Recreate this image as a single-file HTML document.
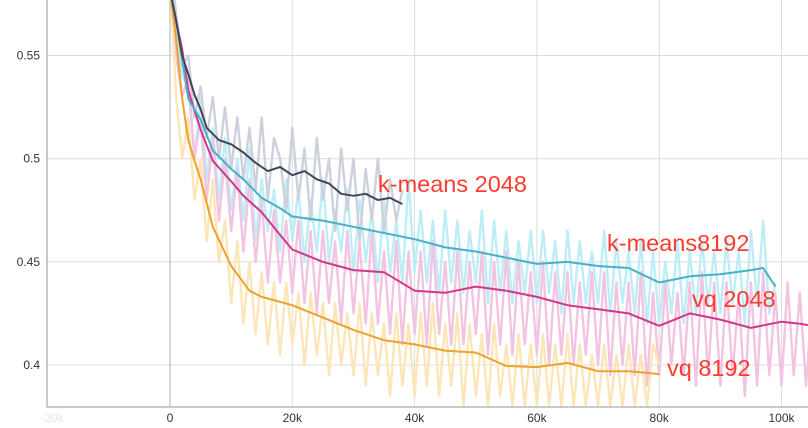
<!DOCTYPE html>
<html><head><meta charset="utf-8"><style>
html,body{margin:0;padding:0;background:#fff;}
svg{display:block;font-family:"Liberation Sans",sans-serif;}
</style></head><body>
<svg id="chart" width="808" height="428"></svg>
<script>
const xTicks=[0,20,40,60,80,100];
const xTickLabels=["0","20k","40k","60k","80k","100k"];
const yTicks=[0.4,0.45,0.5,0.55];
const yTickLabels=["0.4","0.45","0.5","0.55"];

const km2048Steps=[0,1,2,3,4,5,6,8,10,12,14,16,18,20,22,24,26,28,30,32,34,36,38];
const km2048Smooth=[0.582,0.567,0.550,0.541,0.531,0.524,0.515,0.509,0.507,0.503,0.498,0.494,0.496,0.492,0.494,0.490,0.488,0.483,0.482,0.483,0.480,0.481,0.478];
const km8192Steps=[0,1,2,3,5,7,10,12,15,18,20,25,30,35,40,45,50,55,60,65,70,75,80,85,90,95,97,99];
const km8192Smooth=[0.582,0.567,0.548,0.529,0.519,0.504,0.495,0.490,0.481,0.476,0.472,0.470,0.467,0.464,0.461,0.457,0.455,0.452,0.449,0.450,0.448,0.447,0.440,0.443,0.444,0.446,0.447,0.438];
const vq2048Steps=[0,1,2,3,5,7,10,12,15,18,20,25,30,35,40,45,50,55,60,65,70,75,80,85,90,95,100,103,105];
const vq2048Smooth=[0.582,0.567,0.553,0.533,0.514,0.499,0.489,0.482,0.474,0.463,0.456,0.450,0.446,0.445,0.436,0.435,0.438,0.436,0.433,0.429,0.427,0.425,0.419,0.425,0.422,0.418,0.421,0.420,0.419];
const vq8192Steps=[0,1,2,3,4,5,7,10,13,15,20,25,30,35,40,45,50,55,60,65,70,75,80];
const vq8192Smooth=[0.582,0.558,0.529,0.509,0.499,0.490,0.467,0.448,0.436,0.433,0.429,0.423,0.417,0.412,0.410,0.407,0.406,0.3995,0.399,0.401,0.397,0.397,0.3956];

const km2048Raw=[0.60,0.57,0.545,0.55,0.52,0.535,0.51,0.53,0.50,0.525,0.495,0.52,0.49,0.515,0.485,0.52,0.48,0.51,0.50,0.475,0.515,0.48,0.505,0.47,0.51,0.48,0.50,0.465,0.505,0.475,0.50,0.46,0.495,0.47,0.50,0.465,0.49,0.47,0.485];
const km8192Raw=[0.60,0.56,0.54,0.535,0.50,0.53,0.49,0.515,0.48,0.51,0.475,0.50,0.47,0.505,0.46,0.49,0.465,0.485,0.455,0.49,0.46,0.485,0.45,0.48,0.455,0.49,0.45,0.475,0.455,0.485,0.445,0.48,0.45,0.475,0.44,0.48,0.445,0.47,0.44,0.49,0.445,0.475,0.44,0.47,0.435,0.475,0.44,0.47,0.435,0.465,0.44,0.475,0.43,0.47,0.435,0.465,0.43,0.46,0.435,0.465,0.43,0.465,0.435,0.46,0.425,0.465,0.43,0.46,0.43,0.455,0.43,0.465,0.425,0.46,0.43,0.455,0.425,0.46,0.42,0.455,0.42,0.45,0.425,0.46,0.42,0.455,0.425,0.46,0.43,0.455,0.425,0.46,0.43,0.455,0.42,0.465,0.43,0.47,0.425,0.44];
const vq2048Raw=[0.60,0.55,0.53,0.54,0.50,0.52,0.48,0.51,0.47,0.50,0.465,0.495,0.455,0.49,0.45,0.48,0.44,0.475,0.44,0.47,0.435,0.47,0.43,0.465,0.425,0.465,0.43,0.46,0.42,0.465,0.425,0.46,0.42,0.465,0.42,0.455,0.415,0.46,0.41,0.455,0.415,0.455,0.41,0.46,0.415,0.45,0.41,0.455,0.41,0.45,0.415,0.455,0.405,0.45,0.41,0.455,0.405,0.45,0.41,0.445,0.405,0.45,0.40,0.445,0.405,0.445,0.40,0.44,0.405,0.445,0.40,0.445,0.395,0.44,0.40,0.44,0.395,0.445,0.39,0.435,0.395,0.44,0.40,0.435,0.395,0.44,0.39,0.445,0.395,0.44,0.39,0.44,0.395,0.435,0.385,0.44,0.39,0.445,0.395,0.435,0.39,0.44,0.395,0.435,0.39,0.43];
const vq8192Raw=[0.59,0.53,0.50,0.52,0.48,0.50,0.46,0.49,0.45,0.47,0.43,0.46,0.42,0.45,0.415,0.445,0.41,0.44,0.405,0.44,0.41,0.435,0.40,0.435,0.405,0.43,0.395,0.43,0.40,0.425,0.395,0.43,0.39,0.425,0.395,0.42,0.385,0.425,0.39,0.42,0.385,0.425,0.39,0.43,0.385,0.42,0.39,0.425,0.38,0.42,0.385,0.415,0.38,0.42,0.385,0.41,0.38,0.415,0.38,0.41,0.38,0.415,0.38,0.41,0.38,0.415,0.38,0.41,0.38,0.405,0.38,0.41,0.38,0.405,0.38,0.41,0.38,0.405,0.38,0.41,0.40];

const NS="http://www.w3.org/2000/svg";
const svg=document.getElementById('chart');
function xS(k){return 170+k*6.115;}
function yS(v){return 365-(v-0.4)*2063;}
function mk(tag,attrs,parent){const e=document.createElementNS(NS,tag);for(const a in attrs)e.setAttribute(a,attrs[a]);(parent||svg).appendChild(e);return e;}

const defs=mk('defs',{});
const cp=mk('clipPath',{id:'plotclip'},defs);
mk('rect',{x:47,y:0,width:761,height:407},cp);

const grid=mk('g',{});


yTicks.forEach(v=>{const l=mk('line',{x1:47,x2:808,y1:yS(v),y2:yS(v),stroke:'#dcdcdc','stroke-width':1},grid);

});
xTicks.forEach(k=>{const l=mk('line',{x1:xS(k),x2:xS(k),y1:0,y2:407,stroke:k===0?'#b0b0b0':'#dcdcdc','stroke-width':1},grid);

});

const plot=mk('g',{'clip-path':'url(#plotclip)'});


function rawPath(arr,color,name){
  const d=arr.map((v,i)=>(i?'L':'M')+xS(i).toFixed(1)+','+yS(v).toFixed(1)).join('');
  const p=mk('path',{d:d,fill:'none',stroke:color,'stroke-width':2.4,'stroke-linejoin':'round'},plot);
  
  
}
function smoothPath(steps,vals,color,name){
  const d=vals.map((v,i)=>(i?'L':'M')+xS(steps[i]).toFixed(1)+','+yS(v).toFixed(1)).join('');
  const p=mk('path',{d:d,fill:'none',stroke:color,'stroke-width':2,'stroke-linejoin':'round'},plot);
  
  
}
rawPath(km8192Raw,'#bdeef7','kmeans8192-raw-line');
rawPath(vq2048Raw,'#f3c4e2','vq2048-raw-line');
rawPath(vq8192Raw,'#fce6b8','vq8192-raw-line');
rawPath(km2048Raw,'#cdd1dc','kmeans2048-raw-line');
smoothPath(vq8192Steps,vq8192Smooth,'#eda12e','vq8192-smoothed-line');
smoothPath(vq2048Steps,vq2048Smooth,'#d0398a','vq2048-smoothed-line');
smoothPath(km8192Steps,km8192Smooth,'#4aaec6','kmeans8192-smoothed-line');
smoothPath(km2048Steps,km2048Smooth,'#3d4757','kmeans2048-smoothed-line');

const ax=mk('g',{});


const ya=mk('line',{x1:47,x2:47,y1:0,y2:407,stroke:'#b8b8b8','stroke-width':1.5},ax);


const xa=mk('line',{x1:47,x2:808,y1:407,y2:407,stroke:'#b8b8b8','stroke-width':1.5},ax);


yTicks.forEach((v,i)=>{const t=mk('text',{x:40,y:yS(v)+4,'text-anchor':'end','font-size':12,fill:'#333'},ax);t.textContent=yTickLabels[i];

});
xTicks.forEach((k,i)=>{const t=mk('text',{x:xS(k),y:422,'text-anchor':'middle','font-size':12,fill:'#333'},ax);t.textContent=xTickLabels[i];

});
const faint=mk('text',{x:52,y:422,'text-anchor':'middle','font-size':12,fill:'#e4e4e4'},ax);faint.textContent='-20k';



const labels=[["k-means 2048",378,192],["k-means8192",607,251],["vq 2048",692,307],["vq 8192",667,376]];
labels.forEach(l=>{const t=mk('text',{x:l[1],y:l[2],'font-size':23.5,fill:'#ff3b30'});t.textContent=l[0];

});
</script>
</body></html>
